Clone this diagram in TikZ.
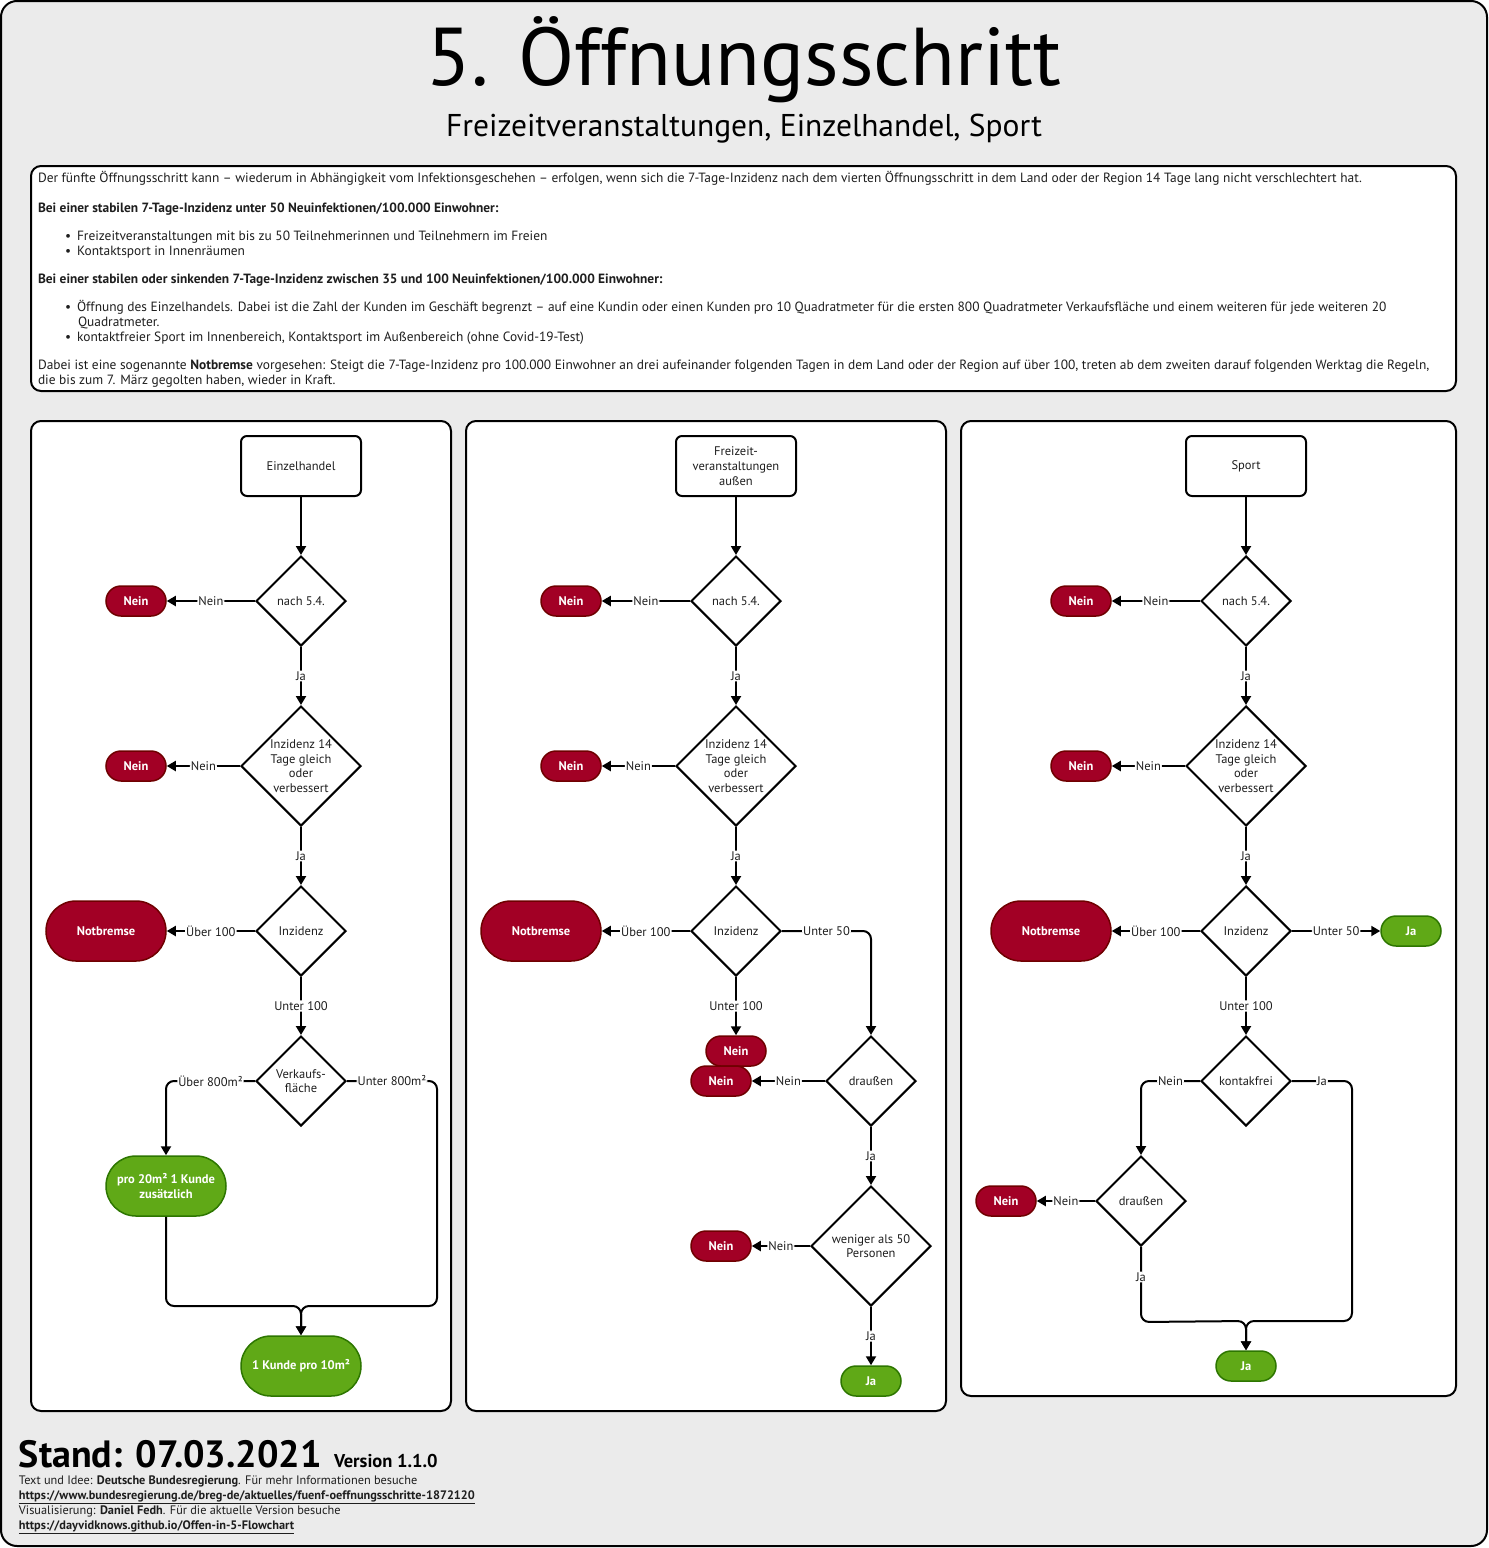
\documentclass[tikz,border=0pt]{standalone}
\usepackage{fontspec}
\setmainfont{PT Sans}
\usetikzlibrary{shapes.geometric,arrows.meta,positioning}
\definecolor{bggray}{RGB}{235,235,235}
\definecolor{neinred}{RGB}{162,0,37}
\definecolor{neinline}{RGB}{111,0,0}
\definecolor{jagreen}{RGB}{96,169,23}
\definecolor{jaline}{RGB}{45,118,0}
\definecolor{dimtext}{RGB}{30,30,30}
\newcommand{\fs}[1]{\fontsize{#1}{#1}\selectfont}
\newcommand{\fsl}[2]{\fontsize{#1}{#2}\selectfont}

\begin{document}
\begin{tikzpicture}[x=1pt, y=-1pt, line width=2pt,
    panel/.style={draw, fill=white, rounded corners=10pt},
    start/.style={draw, fill=white, rounded corners=6pt, minimum width=120pt, minimum height=60pt, align=center, font=\fsl{12.5}{15}, text=dimtext},
    check/.style={draw, fill=white, diamond, aspect=1, inner sep=0pt, minimum size=90pt, align=center, font=\fsl{12.5}{14.5}, text=dimtext},
    bigcheck/.style={check, minimum size=120pt},
    nein/.style={draw=neinline, fill=neinred, line width=1.5pt, text=white, font=\bfseries\fsl{12.5}{15}, minimum width=60pt, minimum height=30pt, rounded corners=15pt},
    ja/.style={nein, draw=jaline, fill=jagreen},
    bignein/.style={nein, minimum width=120pt, minimum height=60pt, rounded corners=30pt},
    bigja/.style={ja, minimum width=120pt, minimum height=60pt, rounded corners=30pt, align=center},
    edge/.style={-{Triangle[length=9pt,width=10pt]}, rounded corners=8pt},
    lbl/.style={fill=white, inner sep=1pt, font=\fs{12.5}, text=dimtext},
    desc/.style={anchor=base west, inner sep=0pt, font=\fs{13.4}, text=dimtext},
    foot/.style={anchor=base west, inner sep=0pt, font=\fs{12.3}, text=dimtext}
  ]
  % background and frame
  \useasboundingbox (0,0) rectangle (1489,1548);
  \draw[fill=bggray, rounded corners=16pt] (1,1) rectangle (1487,1546);

  % title
  \node (title) at (744,60) {\fs{82}5. Öffnungsschritt};
  \node (subtitle) at (744,129) {\fs{31.5}Freizeitveranstaltungen, Einzelhandel, Sport};

  % description
  \draw[panel] (31,166) rectangle (1456,391);
  \node[desc] (d1) at (37,182) {Der fünfte Öffnungsschritt kann – wiederum in Abhängigkeit vom Infektionsgeschehen – erfolgen, wenn sich die 7-Tage-Inzidenz nach dem vierten Öffnungsschritt in dem Land oder der Region 14 Tage lang nicht verschlechtert hat.};
  \node[desc] (d2) at (37,212) {\bfseries Bei einer stabilen 7-Tage-Inzidenz unter 50 Neuinfektionen/100.000 Einwohner:};
  \node[desc] (d3) at (64,240) {•\hspace{6pt}Freizeitveranstaltungen mit bis zu 50 Teilnehmerinnen und Teilnehmern im Freien};
  \node[desc] (d4) at (64,255) {•\hspace{6pt}Kontaktsport in Innenräumen};
  \node[desc] (d5) at (37,283) {\bfseries Bei einer stabilen oder sinkenden 7-Tage-Inzidenz zwischen 35 und 100 Neuinfektionen/100.000 Einwohner:};
  \node[desc] (d6) at (64,311) {•\hspace{6pt}Öffnung des Einzelhandels. Dabei ist die Zahl der Kunden im Geschäft begrenzt – auf eine Kundin oder einen Kunden pro 10 Quadratmeter für die ersten 800 Quadratmeter Verkaufsfläche und einem weiteren für jede weiteren 20};
  \node[desc] (d7) at (77,326) {Quadratmeter.};
  \node[desc] (d8) at (64,341) {•\hspace{6pt}kontaktfreier Sport im Innenbereich, Kontaktsport im Außenbereich (ohne Covid-19-Test)};
  \node[desc] (d9) at (37,369) {Dabei ist eine sogenannte \textbf{Notbremse} vorgesehen: Steigt die 7-Tage-Inzidenz pro 100.000 Einwohner an drei aufeinander folgenden Tagen in dem Land oder der Region auf über 100, treten ab dem zweiten darauf folgenden Werktag die Regeln,};
  \node[desc] (d10) at (37,384) {die bis zum 7. März gegolten haben, wieder in Kraft.};

  % panels
  \draw[panel] (31,421) rectangle (451,1411);
  \draw[panel] (466,421) rectangle (946,1411);
  \draw[panel] (961,421) rectangle (1456,1396);

  % Einzelhandel
  \node[start] (e-start) at (301,466) {Einzelhandel};
  \node[check] (e-nach) at (301,601) {nach 5.4.};
  \node[nein] (e-n1) at (136,601) {Nein};
  \node[bigcheck] (e-inz14) at (301,766) {Inzidenz 14\\Tage gleich\\oder\\verbessert};
  \node[nein] (e-n2) at (136,766) {Nein};
  \node[check] (e-inz) at (301,931) {Inzidenz};
  \node[bignein] (e-stop) at (106,931) {Notbremse};
  \node[check] (e-flaeche) at (301,1081) {Verkaufs-\\fläche};
  \node[bigja] (e-pro20) at (166,1186) {pro 20m² 1 Kunde\\zusätzlich};
  \node[bigja] (e-pro10) at (301,1366) {1 Kunde pro 10m²};
  \coordinate (e-join) at (301,1306);
  \draw[edge] (e-start) -- (e-nach);
  \draw[edge] (e-nach) -- node[lbl] {Nein} (e-n1);
  \draw[edge] (e-nach) -- node[lbl] {Ja} (e-inz14);
  \draw[edge] (e-inz14) -- node[lbl] {Nein} (e-n2);
  \draw[edge] (e-inz14) -- node[lbl] {Ja} (e-inz);
  \draw[edge] (e-inz) -- node[lbl] {Über 100} (e-stop);
  \draw[edge] (e-inz) -- node[lbl] {Unter 100} (e-flaeche);
  \draw[edge] (e-flaeche.west) -| node[lbl, pos=0.25] {Über 800m²} (e-pro20.north);
  \draw[edge] (e-flaeche.east) -- node[lbl] {Unter 800m²} ++(90,0) |- (e-join) -- (e-pro10.north);
  \draw[edge] (e-pro20.south) |- (e-join) -- (e-pro10.north);

  % Freizeitveranstaltungen
  \node[start] (f-start) at (736,466) {Freizeit-\\veranstaltungen\\außen};
  \node[check] (f-nach) at (736,601) {nach 5.4.};
  \node[nein] (f-n1) at (571,601) {Nein};
  \node[bigcheck] (f-inz14) at (736,766) {Inzidenz 14\\Tage gleich\\oder\\verbessert};
  \node[nein] (f-n2) at (571,766) {Nein};
  \node[check] (f-inz) at (736,931) {Inzidenz};
  \node[bignein] (f-stop) at (541,931) {Notbremse};
  \node[nein] (f-n3) at (736,1051) {Nein};
  \node[check] (f-aussen) at (871,1081) {draußen};
  \node[nein] (f-n4) at (721,1081) {Nein};
  \node[bigcheck] (f-wenig) at (871,1246) {weniger als 50\\Personen};
  \node[nein] (f-n5) at (721,1246) {Nein};
  \node[ja] (f-ja) at (871,1381) {Ja};
  \draw[edge] (f-start) -- (f-nach);
  \draw[edge] (f-nach) -- node[lbl] {Nein} (f-n1);
  \draw[edge] (f-nach) -- node[lbl] {Ja} (f-inz14);
  \draw[edge] (f-inz14) -- node[lbl] {Nein} (f-n2);
  \draw[edge] (f-inz14) -- node[lbl] {Ja} (f-inz);
  \draw[edge] (f-inz) -- node[lbl] {Über 100} (f-stop);
  \draw[edge] (f-inz) -- node[lbl] {Unter 100} (f-n3);
  \draw[edge] (f-inz.east) -| node[lbl, pos=0.25] {Unter 50} (f-aussen.north);
  \draw[edge] (f-aussen) -- node[lbl] {Nein} (f-n4);
  \draw[edge] (f-aussen) -- node[lbl] {Ja} (f-wenig);
  \draw[edge] (f-wenig) -- node[lbl] {Nein} (f-n5);
  \draw[edge] (f-wenig) -- node[lbl] {Ja} (f-ja);

  % Sport
  \node[start] (s-start) at (1246,466) {Sport};
  \node[check] (s-nach) at (1246,601) {nach 5.4.};
  \node[nein] (s-n1) at (1081,601) {Nein};
  \node[bigcheck] (s-inz14) at (1246,766) {Inzidenz 14\\Tage gleich\\oder\\verbessert};
  \node[nein] (s-n2) at (1081,766) {Nein};
  \node[check] (s-inz) at (1246,931) {Inzidenz};
  \node[bignein] (s-stop) at (1051,931) {Notbremse};
  \node[ja] (s-ja1) at (1411,931) {Ja};
  \node[check] (s-frei) at (1246,1081) {kontakfrei};
  \node[check] (s-aussen) at (1141,1201) {draußen};
  \node[nein] (s-n3) at (1006,1201) {Nein};
  \node[ja] (s-ja2) at (1246,1366) {Ja};
  \coordinate (s-join) at (1246,1321);
  \draw[edge] (s-start) -- (s-nach);
  \draw[edge] (s-nach) -- node[lbl] {Nein} (s-n1);
  \draw[edge] (s-nach) -- node[lbl] {Ja} (s-inz14);
  \draw[edge] (s-inz14) -- node[lbl] {Nein} (s-n2);
  \draw[edge] (s-inz14) -- node[lbl] {Ja} (s-inz);
  \draw[edge] (s-inz) -- node[lbl] {Über 100} (s-stop);
  \draw[edge] (s-inz) -- node[lbl] {Unter 50} (s-ja1);
  \draw[edge] (s-inz) -- node[lbl] {Unter 100} (s-frei);
  \draw[edge] (s-frei.west) -| node[lbl, pos=0.25] {Nein} (s-aussen.north);
  \draw[edge] (s-aussen) -- node[lbl] {Nein} (s-n3);
  \draw[edge] (s-aussen.south) -- node[lbl, pos=0.4] {Ja} ++(0,75) -- (s-join) -- (s-ja2.north);
  \draw[edge] (s-frei.east) -- node[lbl] {Ja} ++(60,0) |- (s-join) -- (s-ja2.north);

  % footer
  \node[anchor=base west, inner sep=0pt] (stand) at (18,1467) {\bfseries\fs{38}Stand: 07.03.2021};
  \node[right=10pt of stand.base east, anchor=base west, inner sep=0pt] (version) {\bfseries\fs{18.5}Version 1.1.0};
  \node[foot] (f1) at (18,1484) {Text und Idee: \textbf{Deutsche Bundesregierung}. Für mehr Informationen besuche};
  \node[foot] (f2) at (18,1499) {\underline{\textbf{https://www.bundesregierung.de/breg-de/aktuelles/fuenf-oeffnungsschritte-1872120}}};
  \node[foot] (f3) at (18,1514) {Visualisierung: \textbf{Daniel Fedh}. Für die aktuelle Version besuche};
  \node[foot] (f4) at (18,1529) {\underline{\textbf{https://dayvidknows.github.io/Offen-in-5-Flowchart}}};
\end{tikzpicture}
\end{document}
